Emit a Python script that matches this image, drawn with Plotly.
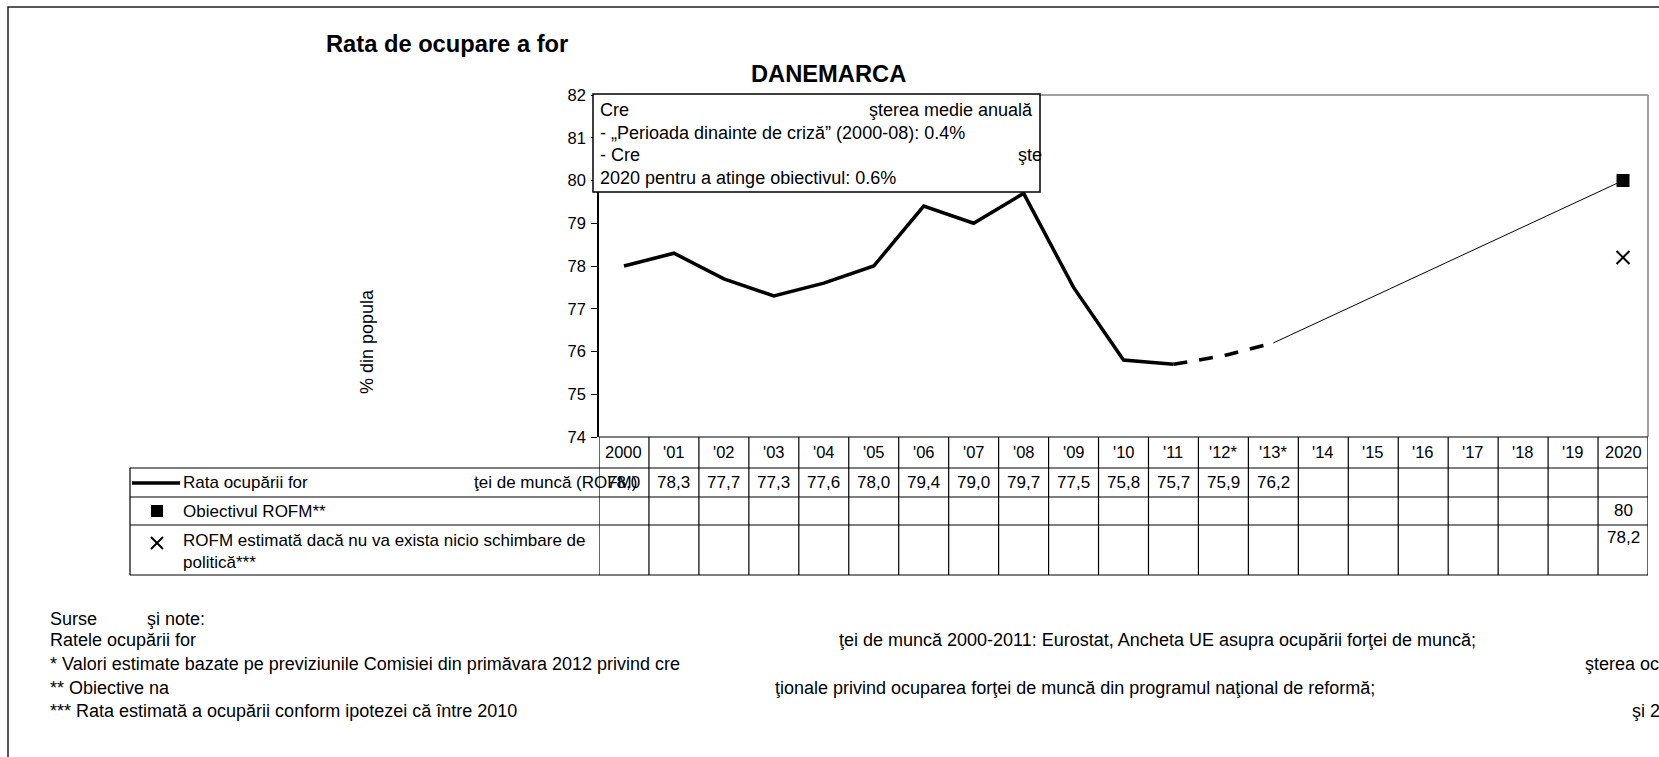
import plotly.graph_objects as go

# ---------------- data ----------------
categories = ["2000", "'01", "'02", "'03", "'04", "'05", "'06", "'07", "'08", "'09", "'10",
              "'11", "'12*", "'13*", "'14", "'15", "'16", "'17", "'18", "'19", "2020"]
rofm = [78.0, 78.3, 77.7, 77.3, 77.6, 78.0, 79.4, 79.0, 79.7, 77.5, 75.8, 75.7, 75.9, 76.2]
n_observed = 12          # 2000-2011 observed, '12*-'13* estimated
target_year = "2020"
target = 80
no_change = 78.2
y_ticks = [74, 75, 76, 77, 78, 79, 80, 81, 82]

# ---------------- geometry (pixels) ----------------
W, H = 1659, 757
PL, PR, PT, PB = 599, 1648, 95, 437
FONT = "Liberation Sans, Arial, sans-serif"


def px(x):
    return (x - PL) / (PR - PL)


def py(y):
    return (PB - y) / (PB - PT)


annotations = []
shapes = []


def txt(x, y, s, size=15, xanchor="left", bold=False, xref="paper", textangle=0):
    annotations.append(dict(
        x=px(x) if xref == "paper" else x, y=py(y), xref=xref, yref="paper",
        text=f"<b>{s}</b>" if bold else s, showarrow=False, xanchor=xanchor,
        yanchor="middle", textangle=textangle, borderpad=0,
        font=dict(family=FONT, size=size, color="black")))


def line(x0, y0, x1, y1, color="black", width=1, xref="paper"):
    shapes.append(dict(
        type="line", xref=xref, yref="paper",
        x0=px(x0) if xref == "paper" else x0, x1=px(x1) if xref == "paper" else x1,
        y0=py(y0), y1=py(y1), line=dict(color=color, width=width)))


fig = go.Figure()

# observed line
fig.add_trace(go.Scatter(x=categories[:n_observed], y=rofm[:n_observed], mode="lines",
                         line=dict(color="black", width=3.5), hoverinfo="skip"))
# estimated (dashed)
fig.add_trace(go.Scatter(x=categories[n_observed - 1:len(rofm)], y=rofm[n_observed - 1:],
                         mode="lines", line=dict(color="black", width=3.5, dash="14px,12px"),
                         hoverinfo="skip"))
# path to target
fig.add_trace(go.Scatter(x=[categories[len(rofm) - 1], target_year], y=[rofm[-1], target],
                         mode="lines", line=dict(color="black", width=1), hoverinfo="skip"))
# target
fig.add_trace(go.Scatter(x=[target_year], y=[target], mode="markers",
                         marker=dict(symbol="square", size=13, color="black"), hoverinfo="skip"))
# no change
fig.add_trace(go.Scatter(x=[target_year], y=[no_change], mode="markers",
                         marker=dict(symbol="x-thin", size=13, color="black",
                                     line=dict(color="black", width=2)), hoverinfo="skip"))

# ---------------- frame & plot borders ----------------
shapes.append(dict(type="rect", xref="paper", yref="paper", x0=px(8), x1=px(1680),
                   y0=py(7), y1=py(790), line=dict(color="#222222", width=1.5),
                   fillcolor="rgba(0,0,0,0)", layer="below"))
line(PL, PT, PR, PT, color="#a0a0a0", width=2)
line(PR, PT, PR, PB, color="#a0a0a0", width=2)

# ---------------- info box ----------------
shapes.append(dict(type="rect", xref="paper", yref="paper", x0=px(593), x1=px(1040),
                   y0=py(94), y1=py(192), line=dict(color="black", width=1.5),
                   fillcolor="white", layer="above"))
txt(599, 110, "Cre", 18)
txt(868, 110, "şterea medie anuală", 18)
txt(599, 133, "- „Perioada dinainte de criză” (2000-08): 0.4%", 18)
txt(599, 155, "- Cre", 18)
txt(1017, 155, "şte", 18)
txt(599, 178, "2020 pentru a atinge obiectivul: 0.6%", 18)

# ---------------- titles ----------------
txt(325, 44, "Rata de ocupare a for", 23.7, bold=True)
txt(828, 74, "DANEMARCA", 23.7, xanchor="center", bold=True)
txt(367, 342, "% din popula", 18, xanchor="center", textangle=-90)

# ---------------- table ----------------
T_HEAD, T_R1, T_R2, T_R3, T_BOT = 437, 468, 497, 525, 575
TL = 130
line(PL, T_HEAD, PR, T_HEAD, width=1.2)
for yy in (T_R1, T_R2, T_R3, T_BOT):
    line(TL, yy, PR, yy, width=1.2)
line(TL, T_R1, TL, T_BOT, width=1.2)
for k in range(len(categories) + 1):
    xk = k - 0.5
    shapes.append(dict(type="line", xref="x", yref="paper", x0=xk, x1=xk,
                       y0=py(T_HEAD), y1=py(T_BOT), line=dict(color="black", width=1.2)))

for i, c in enumerate(categories):
    txt(i, 452, c, 16.5, xanchor="center", xref="x")
for i, v in enumerate(rofm):
    txt(i, 482, f"{v:.1f}".replace(".", ","), 17, xanchor="center", xref="x")
ti = categories.index(target_year)
txt(ti, 510, f"{target:g}".replace(".", ","), 17, xanchor="center", xref="x")
txt(ti, 537, f"{no_change:.1f}".replace(".", ","), 17, xanchor="center", xref="x")

# legend cells
line(132, 483, 180, 483, width=3.5)
txt(182, 482, "Rata ocupării for", 17)
txt(473, 482, "ţei de muncă (ROFM)", 17)
shapes.append(dict(type="rect", xref="paper", yref="paper", x0=px(151), x1=px(163),
                   y0=py(505), y1=py(517), line=dict(color="black", width=0),
                   fillcolor="black"))
txt(182, 511, "Obiectivul ROFM**", 17)
line(151, 537, 163, 549, width=2)
line(151, 549, 163, 537, width=2)
txt(182, 540, "ROFM estimată dacă nu va exista nicio schimbare de", 17)
txt(182, 562, "politică***", 17)

# ---------------- notes ----------------
NS = 18
txt(49, 619, "Surse", NS)
txt(146, 619, "şi note:", NS)
txt(49, 640, "Ratele ocupării for", NS)
txt(838, 640, "ţei de muncă 2000-2011: Eurostat, Ancheta UE asupra ocupării forţei de muncă;", NS)
txt(49, 664, "* Valori estimate bazate pe previziunile Comisiei din primăvara 2012 privind cre", NS)
txt(1584, 664, "şterea ocupării şi pe", NS)
txt(49, 688, "** Obiective na", NS)
txt(774, 688, "ţionale privind ocuparea forţei de muncă din programul naţional de reformă;", NS)
txt(49, 711, "*** Rata estimată a ocupării conform ipotezei că între 2010", NS)
txt(1631, 711, "şi 2", NS)

fig.update_layout(
    width=W, height=H,
    margin=dict(l=PL, r=W - PR, t=PT, b=H - PB, pad=0),
    paper_bgcolor="white", plot_bgcolor="white",
    showlegend=False,
    font=dict(family=FONT, size=15, color="black"),
    xaxis=dict(type="category", categoryorder="array", categoryarray=categories,
               range=[-0.5, len(categories) - 0.5], showticklabels=False, ticks="",
               showgrid=False, zeroline=False, showline=False, fixedrange=True),
    yaxis=dict(range=[y_ticks[0], y_ticks[-1]], tickvals=y_ticks, ticks="outside",
               ticklen=6, tickwidth=1.2, tickcolor="black", showgrid=False, zeroline=False,
               showline=True, linecolor="black", linewidth=1.5, ticklabelstandoff=2,
               tickfont=dict(family=FONT, size=16.5, color="black"), fixedrange=True),
    annotations=annotations,
    shapes=shapes,
)

fig.write_html("out.html", config={"displayModeBar": False},
               post_script="document.body.style.margin='0';")
